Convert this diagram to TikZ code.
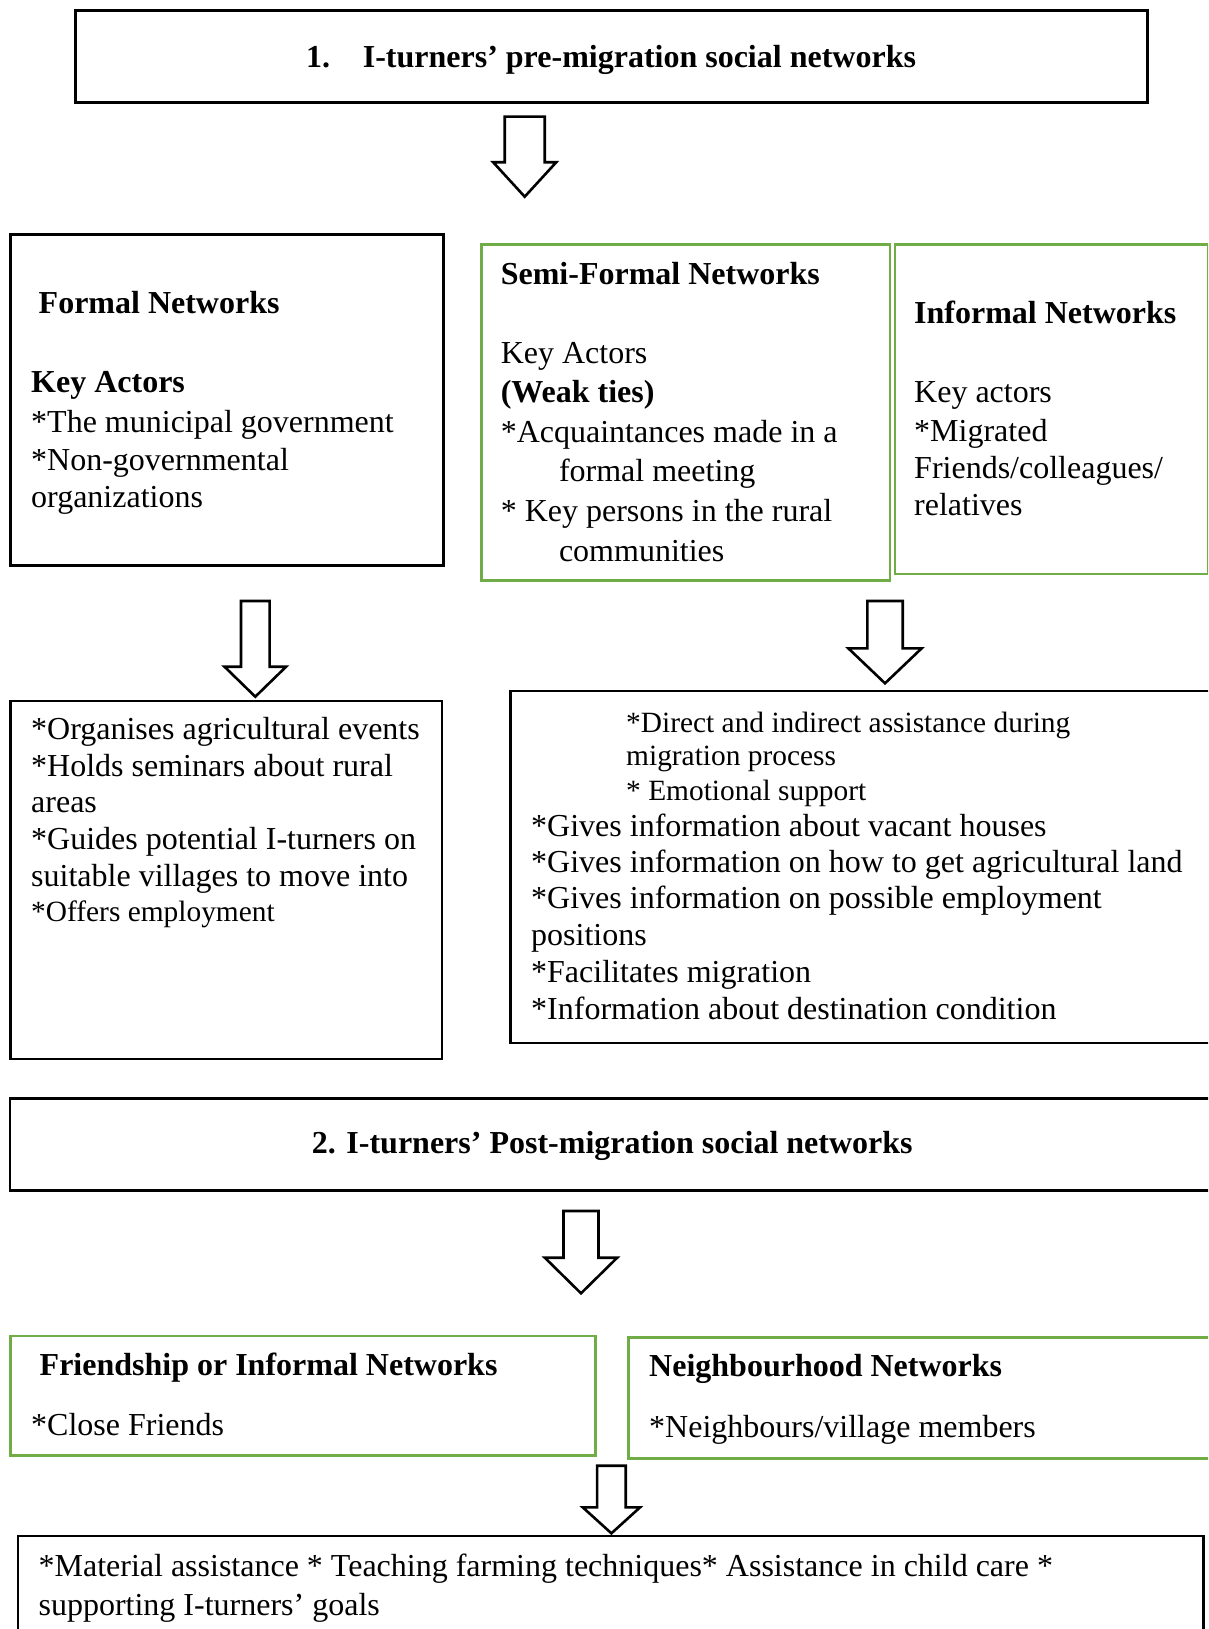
\documentclass[tikz,border=0pt]{standalone}
\usepackage{fontspec}
\setmainfont{Liberation Serif}
\definecolor{boxgreen}{RGB}{112,173,71}
\newcommand\fsN{\fontsize{32}{38}\selectfont}
\newcommand\fsS{\fontsize{29.4}{34}\selectfont}
\tikzset{
  blackbox/.style={draw=black, line width=2.8pt, rectangle, inner sep=0pt, anchor=north west},
  greenbox/.style={draw=boxgreen, line width=2.8pt, rectangle, inner sep=0pt, anchor=north west},
  txt/.style={anchor=base west, inner sep=0pt, font=\fsN},
  stxt/.style={anchor=base west, inner sep=0pt, font=\fsS},
  btxt/.style={anchor=base west, inner sep=0pt, font=\fsN\bfseries},
  blockarrow/.style={draw=black, line width=2.6pt, fill=white, line join=miter}
}
% #1 centre x, #2 top y, #3 shoulder y, #4 tip y, #5 half shaft, #6 half head
\newcommand\blkarrow[6]{%
  \draw[blockarrow] (#1-#5,#2) -- (#1+#5,#2) -- (#1+#5,#3) -- (#1+#6,#3)
    -- (#1,#4) -- (#1-#6,#3) -- (#1-#5,#3) -- cycle;}
\begin{document}
\begin{tikzpicture}[x=1pt,y=-1pt]
\clip (0,0) rectangle (1208,1629);
\fill[white] (0,0) rectangle (1208,1629);

% ---------- boxes ----------
\node[blackbox, minimum width=1072pt, minimum height=91.5pt] (pre) at (73.7,9.3) {};
\node[blackbox, minimum width=432.7pt, minimum height=330.5pt] (formal) at (9.3,233.5) {};
\node[greenbox, minimum width=408.5pt, minimum height=335.8pt] (semi) at (480,243.5) {};
\node[greenbox, minimum width=313.2pt, minimum height=329.2pt] (informal) at (893.5,243.3) {};
\node[blackbox, minimum width=431.2pt, minimum height=358pt] (formalout) at (9.3,699.5) {};
\node[blackbox, minimum width=710pt, minimum height=352pt] (infout) at (509.3,689.5) {};
\node[blackbox, minimum width=1212pt, minimum height=92pt] (post) at (8.5,1097) {};
\node[greenbox, minimum width=584.7pt, minimum height=119.5pt] (friend) at (9.3,1334.5) {};
\node[greenbox, minimum width=593pt, minimum height=121.3pt] (neigh) at (627,1335.7) {};
\node[blackbox, minimum width=1185.1pt, minimum height=110pt] (support) at (16.6,1534.5) {};

% ---------- block arrows ----------
\blkarrow{524.7}{116.7}{162.3}{196.7}{20}{31.5}
\blkarrow{255.3}{601}{666.7}{696.7}{14.3}{30.8}
\blkarrow{885}{601}{648.3}{683.3}{17.7}{36.7}
\blkarrow{581}{1211}{1257.7}{1293.3}{17.5}{36.2}
\blkarrow{611.4}{1465.7}{1507.3}{1533.3}{14.35}{28.7}

% ---------- texts ----------
\node[btxt] (t1) at (306,68) {1.\hspace{32.7pt}I-turners’ pre-migration social networks};

\node[btxt] (f1) at (38.5,313) {Formal Networks};
\node[btxt] (f2) at (31,392.5) {Key Actors};
\node[txt] (f3) at (31,432) {*The municipal government};
\node[txt] (f4) at (31,470) {*Non-governmental};
\node[txt] (f5) at (31,507.5) {organizations};

\node[btxt] (s1) at (500.6,284) {Semi-Formal Networks};
\node[txt] (s2) at (500.6,363) {Key Actors};
\node[btxt] (s3) at (500.6,402.6) {(Weak ties)};
\node[txt] (s4) at (500.6,442) {*Acquaintances made in a};
\node[txt] (s5) at (558.8,481.6) {formal meeting};
\node[txt] (s6) at (500.6,521.7) {* Key persons in the rural};
\node[txt] (s7) at (558.8,561) {communities};

\node[btxt] (i1) at (914,323.5) {Informal Networks};
\node[txt] (i2) at (914,402) {Key actors};
\node[txt] (i3) at (914,441.5) {*Migrated};
\node[txt] (i4) at (914,478.5) {Friends/colleagues/};
\node[txt] (i5) at (914,515.5) {relatives};

\node[txt] (o1) at (31,739) {*Organises agricultural events};
\node[txt] (o2) at (31,776) {*Holds seminars about rural};
\node[txt] (o3) at (31,812.5) {areas};
\node[txt] (o4) at (31,849.5) {*Guides potential I-turners on};
\node[txt] (o5) at (31,886.5) {suitable villages to move into};
\node[stxt] (o6) at (31,921) {*Offers employment};

\node[stxt] (r1) at (626,732) {*Direct and indirect assistance during};
\node[stxt] (r2) at (626,765) {migration process};
\node[stxt] (r3) at (626,800) {* Emotional support};
\node[txt] (r4) at (531,836) {*Gives information about vacant houses};
\node[txt] (r5) at (531,872) {*Gives information on how to get agricultural land};
\node[txt] (r6) at (531,908.5) {*Gives information on possible employment};
\node[txt] (r7) at (531,945) {positions};
\node[txt] (r8) at (531,982) {*Facilitates migration};
\node[txt] (r9) at (531,1019) {*Information about destination condition};

\node[btxt] (t2) at (311.6,1153) {2. I-turners’ Post-migration social networks};

\node[btxt] (fr1) at (39.5,1375) {Friendship or Informal Networks};
\node[txt] (fr2) at (31,1435) {*Close Friends};
\node[btxt] (n1) at (649,1376) {Neighbourhood Networks};
\node[txt] (n2) at (649,1437) {*Neighbours/village members};

\node[txt] (b1) at (38.4,1576) {*Material assistance * Teaching farming techniques* Assistance in child care *};
\node[txt] (b2) at (38.4,1615) {supporting I-turners’ goals};
\end{tikzpicture}
\end{document}
